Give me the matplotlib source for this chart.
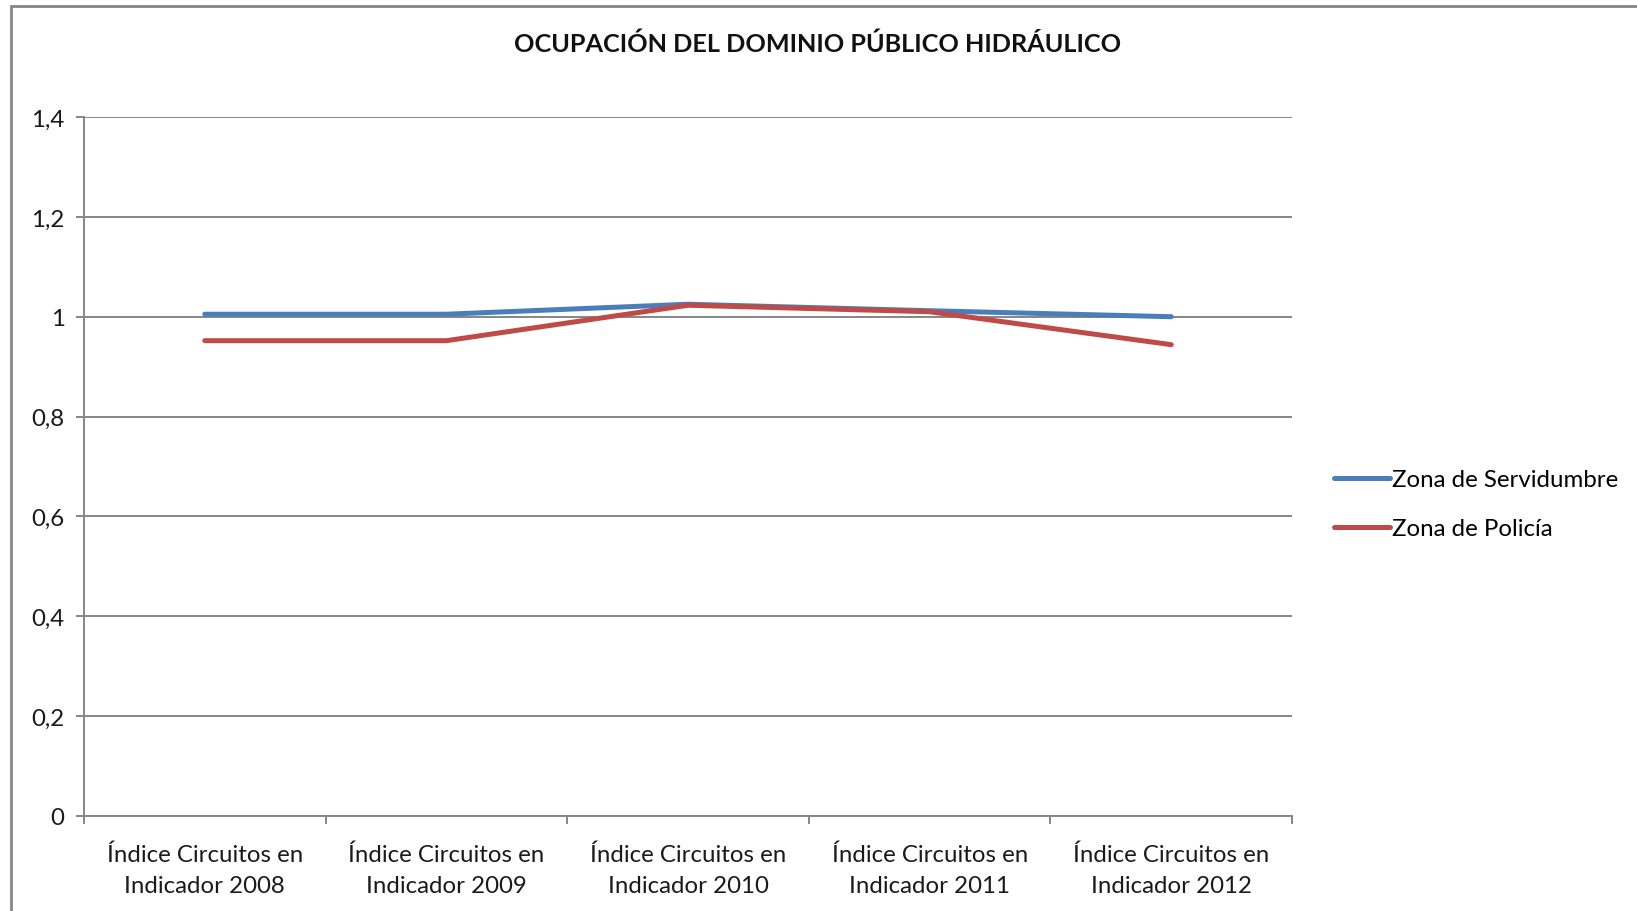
import matplotlib
matplotlib.use("Agg")
import matplotlib.pyplot as plt
from matplotlib.patches import Rectangle
import numpy as np

plt.rcParams['font.family'] = ['Lato', 'DejaVu Sans']

categories = ["Índice Circuitos en\nIndicador 2008", "Índice Circuitos en\nIndicador 2009",
              "Índice Circuitos en\nIndicador 2010", "Índice Circuitos en\nIndicador 2011",
              "Índice Circuitos en\nIndicador 2012"]
servidumbre = [1.005, 1.005, 1.025, 1.012, 1.0]
policia = [0.952, 0.952, 1.023, 1.01, 0.944]
yticks = [0, 0.2, 0.4, 0.6, 0.8, 1.0, 1.2, 1.4]
ytick_labels = ["0", "0,2", "0,4", "0,6", "0,8", "1", "1,2", "1,4"]

grey = "#868686"

fig = plt.figure(figsize=(16.37, 9.12), dpi=100)
ax = fig.add_axes([0.0513, 0.1042, 0.738, 0.7664])

x = np.arange(len(categories))
ax.plot(x, servidumbre, color="#4A7EBB", lw=3.6, label="Zona de Servidumbre", solid_capstyle="round")
ax.plot(x, policia, color="#BE4B48", lw=3.6, label="Zona de Policía", solid_capstyle="round")

ax.set_xlim(-0.5, len(categories) - 0.5)
ax.set_ylim(0, 1.4)
ax.set_yticks(yticks)
ax.set_yticklabels(ytick_labels)
ax.yaxis.grid(True, color=grey, lw=1.4)
ax.set_axisbelow(True)

ax.set_xticks(x)
ax.set_xticklabels(categories, linespacing=1.6)
ax.set_xticks(np.arange(len(categories) + 1) - 0.5, minor=True)
ax.tick_params(axis="x", which="major", length=0, pad=20, labelsize=17.3, colors="#1a1a1a")
ax.tick_params(axis="x", which="minor", length=6, width=1.4, color=grey)
ax.tick_params(axis="y", length=6, width=1.4, color=grey, pad=8, labelsize=17.3, labelcolor="#1a1a1a")

for side in ["top", "right"]:
    ax.spines[side].set_visible(False)
for side in ["left", "bottom"]:
    ax.spines[side].set_color(grey)
    ax.spines[side].set_linewidth(1.4)

fig.text(0.4995, 0.951, "OCUPACIÓN DEL DOMINIO PÚBLICO HIDRÁULICO", ha="center", va="center",
         fontsize=18.2, fontweight="bold", color="#111111")

fig.legend(loc="center left", bbox_to_anchor=(0.802, 0.446), frameon=False, fontsize=17.3,
           handlelength=2.3, handletextpad=0.1, labelspacing=1.15)

fig.patches.append(Rectangle((11 / 1637, -0.05), 1.2, 1 - 7 / 912 + 0.05, transform=fig.transFigure,
                             fill=False, edgecolor=grey, lw=2))

fig.savefig("out.png", dpi=100)
